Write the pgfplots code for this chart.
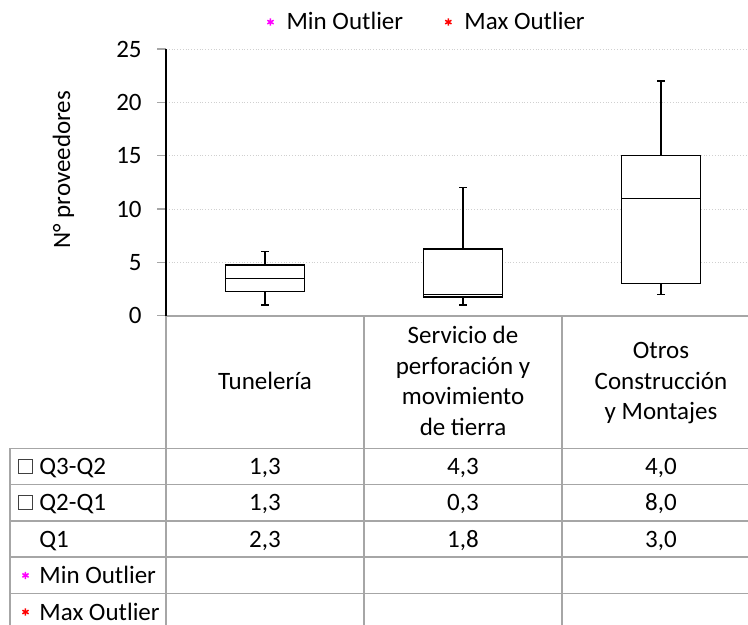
\documentclass[border=0pt]{standalone}
\usepackage{pgfplots}
\pgfplotsset{compat=1.18}
\usepgfplotslibrary{statistics}
\usepackage{fontspec}
\setmainfont{Carlito}
\definecolor{tblgray}{HTML}{A6A6A6}
\definecolor{gridgray}{HTML}{D0D0D0}
\definecolor{mag}{HTML}{FF00FF}
\definecolor{redm}{HTML}{FF0000}
\newcommand{\fs}{\fontsize{12.5pt}{15.3pt}\selectfont}
\begin{document}
\begin{tikzpicture}[font=\fs]
\path[use as bounding box] (0,0) rectangle (374pt,-312.5pt);
\clip (0,0) rectangle (374pt,-312.5pt);
\begin{axis}[
  at={(83pt,-157.85pt)}, anchor=south west,
  scale only axis, width=297pt, height=133.35pt,
  xmin=-0.5, xmax=2.5, ymin=0, ymax=25,
  ytick={0,5,10,15,20,25}, xtick=\empty,
  axis x line*=bottom, axis y line*=left,
  x axis line style={tblgray, line width=0.8pt},
  y axis line style={black, line width=0.6pt},
  ymajorgrids, grid style={gridgray, densely dotted, line width=0.5pt},
  tick align=outside, major tick length=4.5pt,
  ytick style={tblgray, line width=0.6pt},
  /pgf/number format/assume math mode=true,
  tick label style={font=\fs},
  yticklabel style={anchor=east, inner sep=0pt, xshift=-7.5pt},
  ylabel={N° proveedores},
  ylabel style={font=\fs, at={(axis description cs:-0.1616,0.5474)}, anchor=base},
  boxplot/draw direction=y,
  legend columns=2,
  legend style={font=\fs, draw=none, fill=none, at={(axis description cs:0.1700,1.101)}, anchor=west, inner sep=0pt, column sep=6.5pt, nodes={inner sep=0pt}, /tikz/every even column/.append style={column sep=21pt}},
  legend image code/.code={\draw[#1] plot coordinates {(0pt,0pt)};},
]
\addlegendimage{only marks, mark=asterisk, mark size=1.8pt, mag, line width=0.75pt}
\addlegendentry{Min Outlier}
\addlegendimage{only marks, mark=asterisk, mark size=1.8pt, redm, line width=0.75pt}
\addlegendentry{Max Outlier}
% Tuneleria
\addplot[forget plot, boxplot prepared={draw position=0, lower whisker=1, lower quartile=2.25, median=3.5, upper quartile=4.75, upper whisker=6, box extend=0.4, whisker extend=0.04}, black, line width=0.8pt, fill=white] coordinates {};
% Servicio de perforacion y movimiento de tierra
\addplot[forget plot, boxplot prepared={draw position=1, lower whisker=1, lower quartile=1.75, median=2.0, upper quartile=6.25, upper whisker=12, box extend=0.4, whisker extend=0.04}, black, line width=0.8pt, fill=white] coordinates {};
% Otros Construccion y Montajes
\addplot[forget plot, boxplot prepared={draw position=2, lower whisker=2, lower quartile=3, median=11, upper quartile=15, upper whisker=22, box extend=0.4, whisker extend=0.04}, black, line width=0.8pt, fill=white] coordinates {};
\end{axis}
% data table grid
\begin{scope}[tblgray, line width=0.7pt]
\foreach \x in {83,182,281,380} \draw (\x pt,-158pt) -- (\x pt,-320pt);
\draw (5pt,-224.15pt) -- (5pt,-320pt);
\foreach \y in {224.15,242.15,260.5,278.5,296.85,315.2} \draw (5pt,-\y pt) -- (380pt,-\y pt);
\end{scope}
% header
\node[anchor=base, inner sep=0pt] at (132.5pt,-194.65pt) {Tunelería};
\node[anchor=base, inner sep=0pt] at (231.5pt,-171.65pt) {Servicio de};
\node[anchor=base, inner sep=0pt] at (231.5pt,-187pt) {perforación y};
\node[anchor=base, inner sep=0pt] at (231.5pt,-202.3pt) {movimiento};
\node[anchor=base, inner sep=0pt] at (231.5pt,-217.6pt) {de tierra};
\node[anchor=base, inner sep=0pt] at (330.5pt,-179.35pt) {Otros};
\node[anchor=base, inner sep=0pt] at (330.5pt,-194.65pt) {Construcción};
\node[anchor=base, inner sep=0pt] at (330.5pt,-209.95pt) {y Montajes};
% row labels
\node[draw=black!75, fill=white, line width=0.5pt, minimum size=6.7pt, inner sep=0pt] at (12.65pt,-233.15pt) {};
\node[draw=black!75, fill=white, line width=0.5pt, minimum size=6.7pt, inner sep=0pt] at (12.65pt,-251.3pt) {};
\node[inner sep=0pt] at (12.75pt,-287.7pt) {\tikz\draw[mag, line width=0.75pt] plot[mark=asterisk, mark size=1.8pt] coordinates {(0,0)};};
\node[inner sep=0pt] at (12.75pt,-306pt) {\tikz\draw[redm, line width=0.75pt] plot[mark=asterisk, mark size=1.8pt] coordinates {(0,0)};};
\node[anchor=base west, inner sep=0pt] at (19.5pt,-237.2pt) {Q3-Q2};
\node[anchor=base west, inner sep=0pt] at (19.5pt,-255.3pt) {Q2-Q1};
\node[anchor=base west, inner sep=0pt] at (19.5pt,-273.5pt) {Q1};
\node[anchor=base west, inner sep=0pt] at (19.5pt,-291.7pt) {Min Outlier};
\node[anchor=base west, inner sep=0pt] at (19.5pt,-310pt) {Max Outlier};
% values
\node[anchor=base, inner sep=0pt] at (132.5pt,-237.2pt) {1,3};
\node[anchor=base, inner sep=0pt] at (231.5pt,-237.2pt) {4,3};
\node[anchor=base, inner sep=0pt] at (330.5pt,-237.2pt) {4,0};
\node[anchor=base, inner sep=0pt] at (132.5pt,-255.3pt) {1,3};
\node[anchor=base, inner sep=0pt] at (231.5pt,-255.3pt) {0,3};
\node[anchor=base, inner sep=0pt] at (330.5pt,-255.3pt) {8,0};
\node[anchor=base, inner sep=0pt] at (132.5pt,-273.5pt) {2,3};
\node[anchor=base, inner sep=0pt] at (231.5pt,-273.5pt) {1,8};
\node[anchor=base, inner sep=0pt] at (330.5pt,-273.5pt) {3,0};
\end{tikzpicture}
\end{document}
